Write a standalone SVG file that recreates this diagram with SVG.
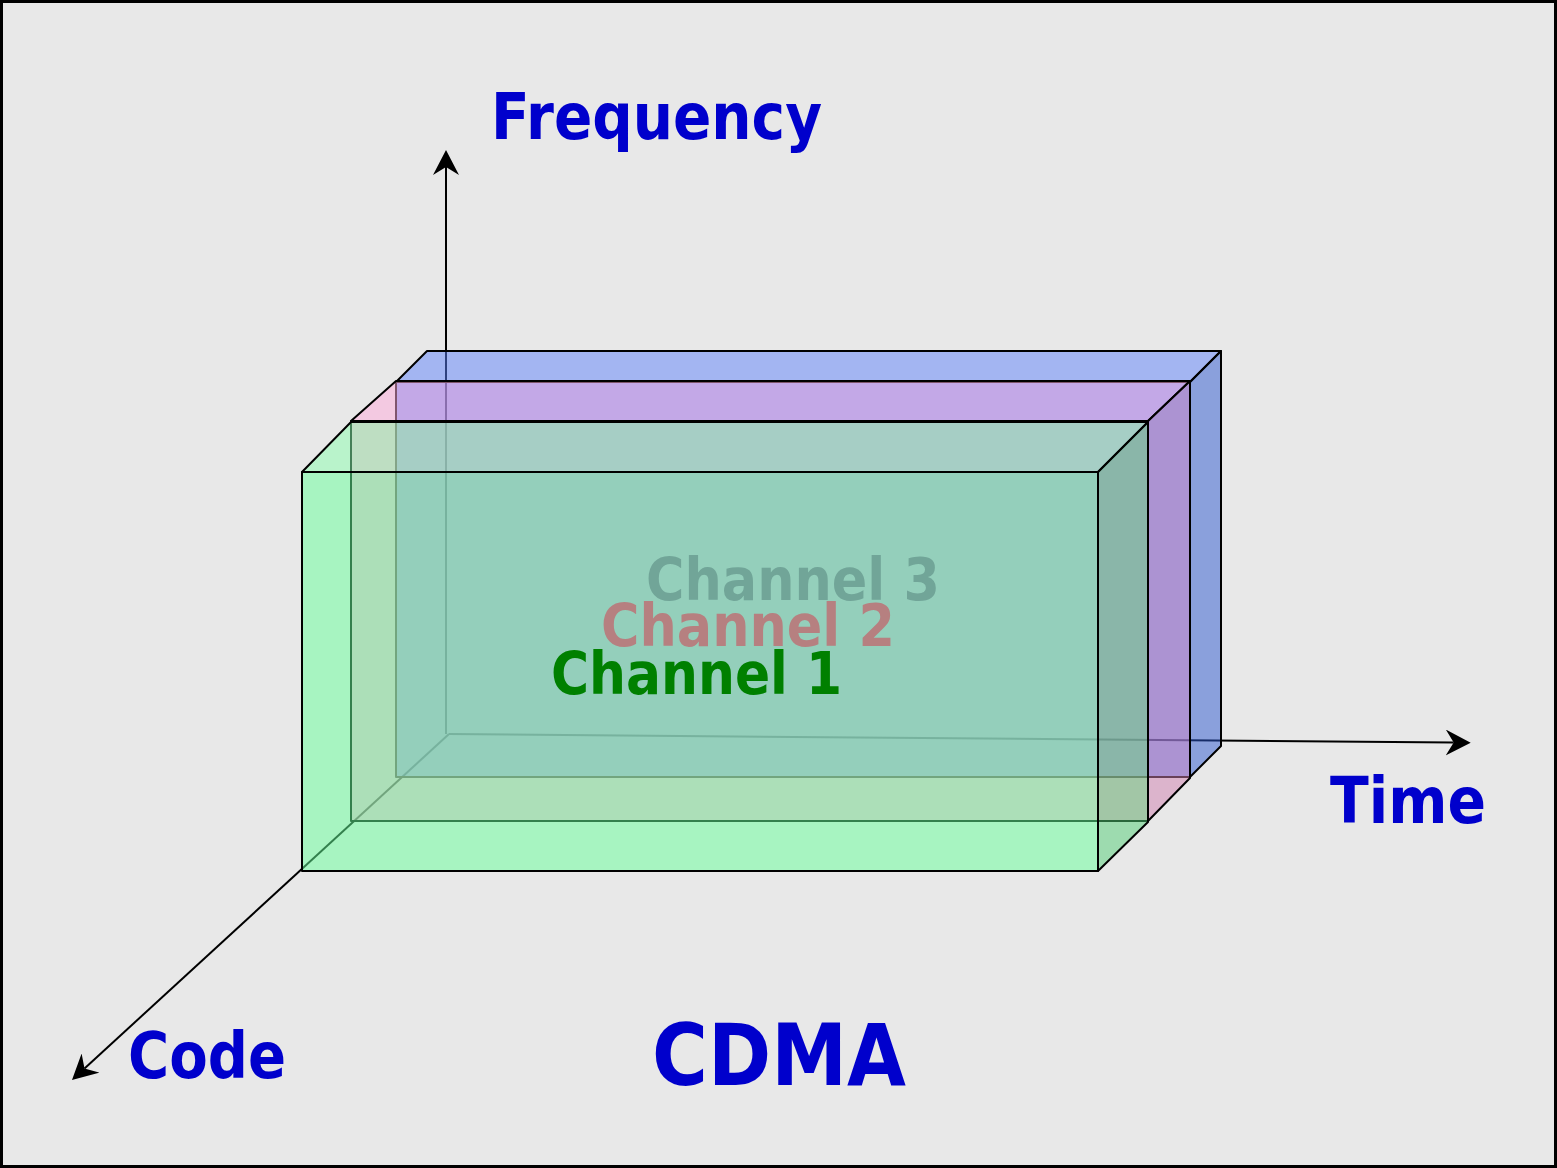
<svg xmlns="http://www.w3.org/2000/svg" width="1557" height="1168" viewBox="0 0 1557 1168">
  <style>
    .face { stroke: #000; stroke-width: 2; stroke-linejoin: round; fill-opacity: 0.5; }
    .axis { fill: none; stroke: #000; stroke-width: 2; }
    .axlabel { font-family: "DejaVu Sans", "Liberation Sans", sans-serif; font-weight: bold; fill: #0000cc; }
    .chan { font-family: "Comic Sans MS", "DejaVu Sans", sans-serif; font-weight: bold; font-size: 58px; }
  </style>
  <defs>
    <marker id="arrow" viewBox="0 -13 25 26" refX="8" refY="0" markerWidth="25" markerHeight="26" markerUnits="userSpaceOnUse" orient="auto">
      <path d="M25,0 L0,-13 L8,0 L0,13 Z" fill="#000"/>
    </marker>
  </defs>

  <rect id="frame" x="1.5" y="1.5" width="1554" height="1165" fill="#e8e8e8" stroke="#000" stroke-width="3"/>

  <g id="connectors">
    <path id="axis-frequency" class="axis" d="M446,734 L446,167" marker-end="url(#arrow)"/>
    <path id="axis-time" class="axis" d="M449,734 L1453.7,742.6" marker-end="url(#arrow)"/>
    <path id="axis-code" class="axis" d="M449,734 L84.5,1068.5" marker-end="url(#arrow)"/>
  </g>

  <g id="channel3-box">
    <polygon class="face" fill="#2864ff" points="396,382 1190,382 1190,777 396,777"/>
    <polygon class="face" fill="#5e82fc" points="396,382 427,351 1221,351 1190,382"/>
    <polygon class="face" fill="#2c58d0" points="1190,382 1221,351 1221,746 1190,777"/>
  </g>

  <g id="channel2-box">
    <polygon class="face" fill="#fc96c4" points="351,421 1148,421 1148,821 351,821"/>
    <polygon class="face" fill="#feaada" points="351,421 396,381 1190,381 1148,421"/>
    <polygon class="face" fill="#d080b0" points="1148,421 1190,381 1190,778 1148,821"/>
  </g>

  <g id="channel1-box">
    <polygon class="face" fill="#66ff9a" points="302,472 1098,472 1098,871 302,871"/>
    <polygon class="face" fill="#8afeae" points="302,472 351,422 1148,422 1098,472"/>
    <polygon class="face" fill="#52cd76" points="1098,472 1148,422 1148,822 1098,871"/>
  </g>

  <g id="channel-labels">
    <text id="label-channel3" class="chan" x="646" y="600" textLength="294" lengthAdjust="spacingAndGlyphs" fill="#71a598">Channel 3</text>
    <text id="label-channel2" class="chan" x="601" y="646" textLength="294" lengthAdjust="spacingAndGlyphs" fill="#b68080">Channel 2</text>
    <text id="label-channel1" class="chan" x="551" y="694" textLength="291" lengthAdjust="spacingAndGlyphs" fill="#008000">Channel 1</text>
  </g>

  <g id="label-frequency">
    <text class="axlabel" x="491" y="139" font-size="64" textLength="331" lengthAdjust="spacingAndGlyphs">Frequency</text>
  </g>
  <g id="label-time">
    <text class="axlabel" x="1330" y="823" font-size="64" textLength="156" lengthAdjust="spacingAndGlyphs">Time</text>
  </g>
  <g id="label-code">
    <text class="axlabel" x="128" y="1078" font-size="64" textLength="158" lengthAdjust="spacingAndGlyphs">Code</text>
  </g>
  <g id="label-cdma">
    <text class="axlabel" x="652" y="1085" font-size="86" textLength="254" lengthAdjust="spacingAndGlyphs">CDMA</text>
  </g>
</svg>
